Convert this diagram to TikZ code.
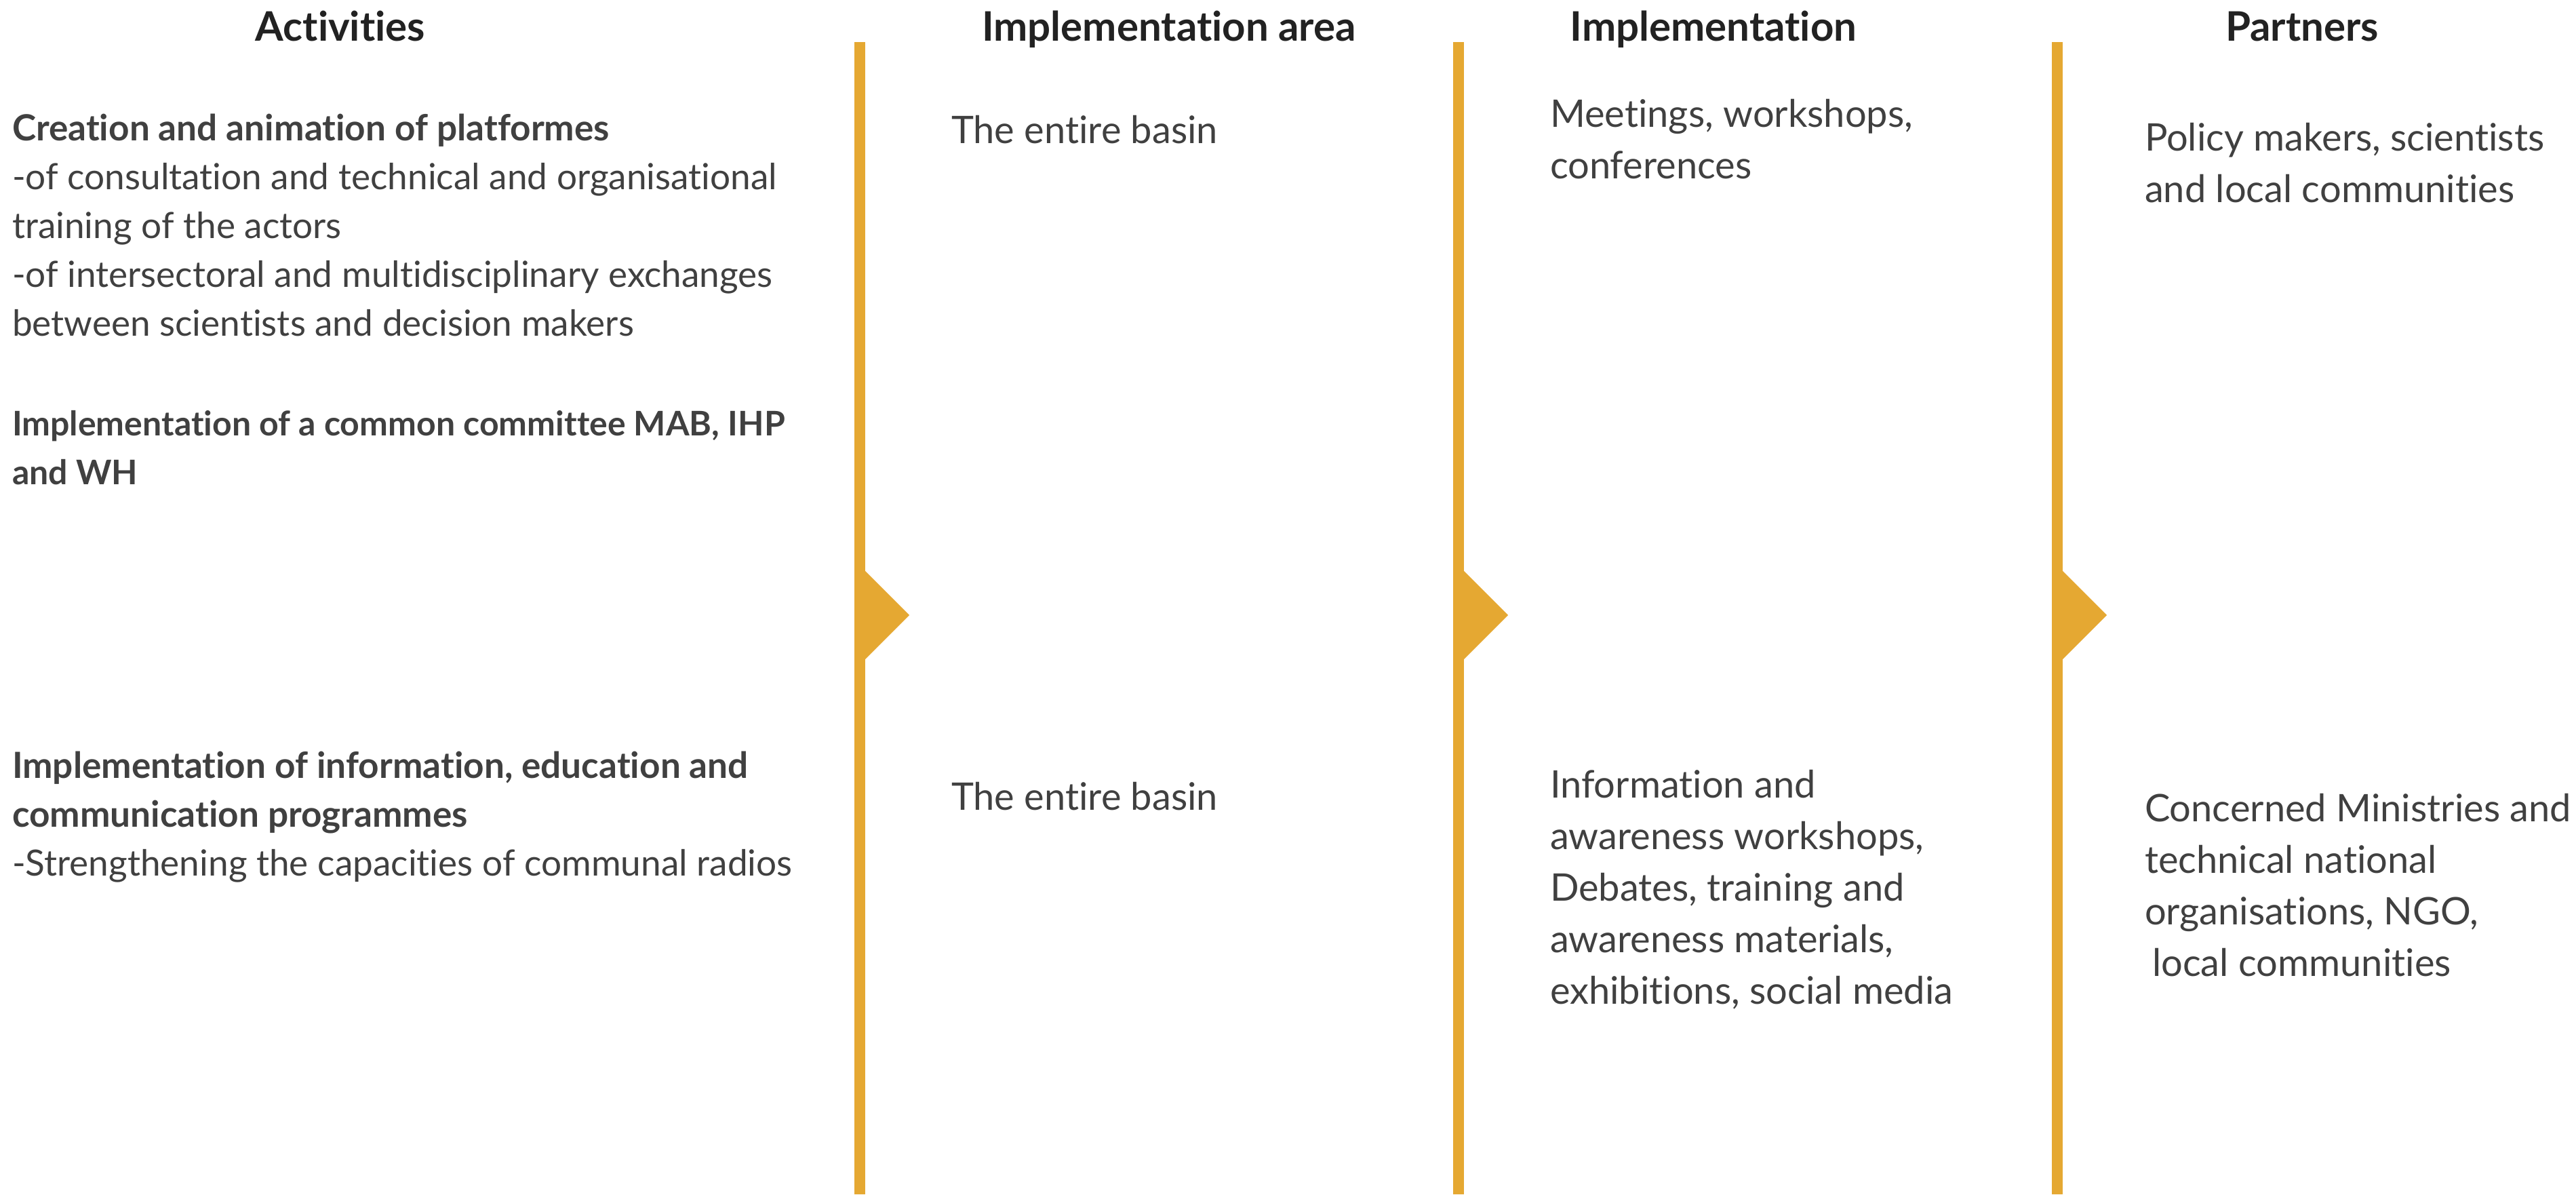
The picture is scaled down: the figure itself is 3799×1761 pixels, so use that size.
\documentclass[tikz,border=0pt]{standalone}
\usepackage{fontspec}
\setmainfont{Lato}[Ligatures=NoCommon]
\definecolor{barorange}{HTML}{E5A832}
\definecolor{bodygray}{HTML}{404040}
\definecolor{headgray}{HTML}{222222}
\tikzstyle{head} = [anchor=base, inner sep=0pt, text=headgray, font=\fontsize{12}{14}\selectfont\bfseries]
\tikzstyle{entry} = [anchor=base west, inner sep=0pt, align=left, text=bodygray, font=\fontsize{11.2}{15.2}\selectfont]
\tikzstyle{activity} = [entry, font=\fontsize{10.63}{14.4}\selectfont]
\tikzstyle{bar} = [fill=barorange]

\begin{document}
\begin{tikzpicture}[x=0.2pt,y=-0.2pt]
\useasboundingbox (0,0) rectangle (3799,1761);
% headings
\node[head] (hact) at (502,60) {Activities};
\node[head] (harea) at (1724,60) {Implementation area};
\node[head] (himpl) at (2527,60) {Implementation};
\node[head] (hpart) at (3395,60) {Partners};
% separators
\foreach \x in {1268,2151,3034} {
  \fill[bar] (\x-8,62) rectangle (\x+8,1761);
  \fill[bar] (\x+8,842) -- (\x+73,907) -- (\x+8,972) -- cycle;
}
% activities (anchor = last line)
\node[activity] (act1) at (17,495) {\textbf{Creation and animation of platformes}\\-of consultation and technical and organisational\\training of the actors\\-of intersectoral and multidisciplinary exchanges\\between scientists and decision makers};
\node[activity, font=\fontsize{10}{14.4}\selectfont] (act2) at (17,714) {\textbf{Implementation of a common committee MAB, IHP}\\\textbf{and WH}};
\node[activity] (act3) at (17,1291) {\textbf{Implementation of information, education and}\\\textbf{communication programmes}\\-Strengthening the capacities of communal radios};
% implementation area
\node[entry] (area1) at (1402,211) {The entire basin};
\node[entry] (area2) at (1402,1194) {The entire basin};
% implementation
\node[entry] (impl1) at (2285,263) {Meetings, workshops,\\conferences};
\node[entry] (impl2) at (2285,1480) {Information and\\awareness workshops,\\Debates, training and\\awareness materials,\\exhibitions, social media};
% partners
\node[entry] (part1) at (3162,298) {Policy makers, scientists\\and local communities};
\node[entry] (part2) at (3162,1439) {Concerned Ministries and\\technical national\\organisations, NGO,\\\hspace*{0.2em}local communities};
\end{tikzpicture}
\end{document}
